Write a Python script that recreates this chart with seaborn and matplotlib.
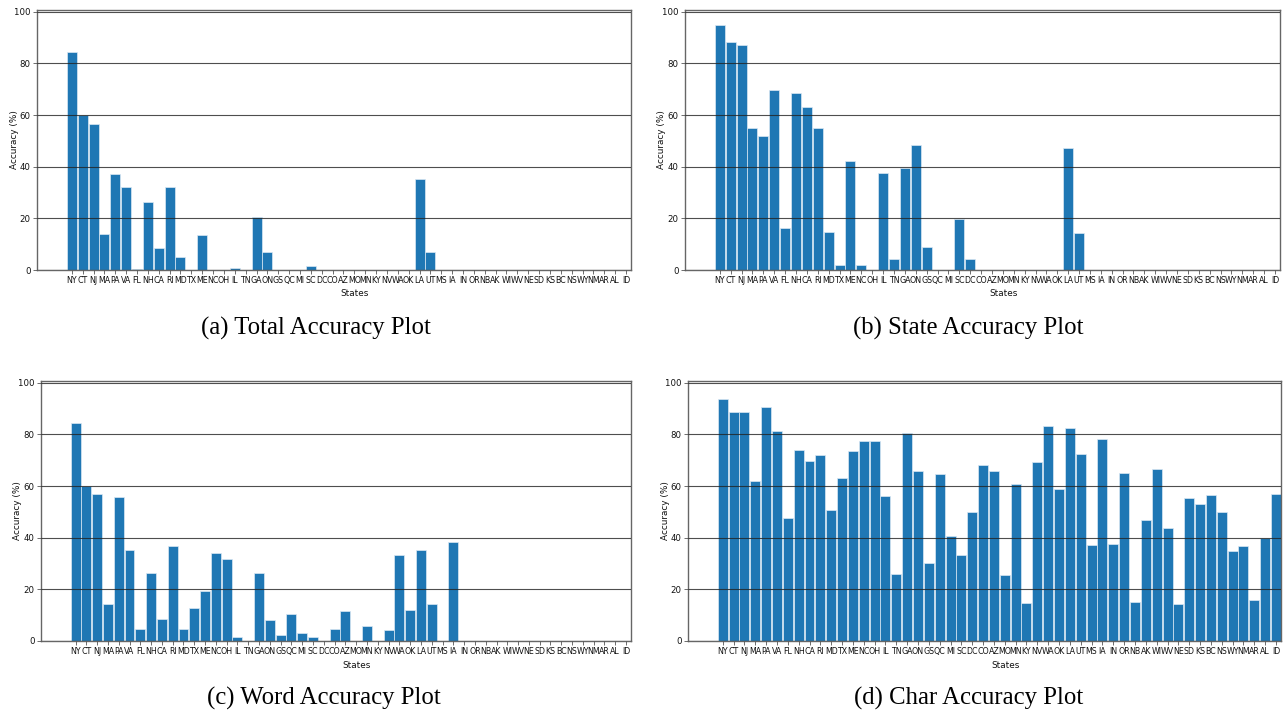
import matplotlib
matplotlib.use("Agg")
import matplotlib.pyplot as plt
import seaborn as sns
import pandas as pd

states = ["NY", "CT", "NJ", "MA", "PA", "VA", "FL", "NH", "CA", "RI", "MD", "TX", "ME",
          "NC", "OH", "IL", "TN", "GA", "ON", "GS", "QC", "MI", "SC", "DC", "CO", "AZ",
          "MO", "MN", "KY", "NV", "WA", "OK", "LA", "UT", "MS", "IA", "IN", "OR", "NB",
          "AK", "WI", "WV", "NE", "SD", "KS", "BC", "NS", "WY", "NM", "AR", "AL", "ID"]

total_acc = [84.3, 60.1, 56.5, 14.0, 37.2, 32.2, 0.3, 26.3, 8.6, 32.2, 4.9, 0, 13.6,
             0, 0, 0.6, 0, 20.7, 7.0, 0, 0, 0, 1.5, 0, 0, 0,
             0, 0, 0, 0, 0, 0, 35.3, 7.1, 0, 0, 0, 0, 0,
             0, 0, 0, 0, 0, 0, 0, 0, 0, 0, 0, 0, 0]

state_acc = [94.7, 88.3, 87.3, 55.0, 52.0, 69.8, 16.3, 68.5, 63.3, 55.0, 14.7, 1.9, 42.2,
             1.9, 0, 37.6, 4.4, 39.5, 48.3, 9.0, 0, 0, 19.6, 4.2, 0, 0,
             0, 0, 0, 0, 0, 0, 47.1, 14.2, 0, 0, 0, 0, 0,
             0, 0, 0, 0, 0, 0, 0, 0, 0, 0, 0, 0, 0]

word_acc = [84.4, 60.1, 57.1, 14.5, 55.6, 35.3, 4.8, 26.2, 8.5, 36.8, 4.8, 12.9, 19.4,
            34.1, 31.8, 1.4, 0, 26.4, 8.1, 2.5, 10.6, 3.0, 1.4, 0, 4.5, 11.5,
            0, 5.8, 0, 4.3, 33.3, 11.9, 35.3, 14.2, 0, 38.5, 0, 0, 0,
            0, 0, 0, 0, 0, 0, 0, 0, 0, 0, 0, 0, 0]

char_acc = [93.7, 88.8, 88.8, 62.0, 90.6, 81.3, 47.8, 74.0, 69.7, 72.2, 50.9, 63.3, 73.6,
            77.4, 77.4, 56.2, 25.8, 80.5, 66.0, 30.3, 64.7, 40.5, 33.5, 49.9, 68.0, 66.0,
            25.4, 60.7, 14.6, 69.5, 83.4, 58.8, 82.6, 72.6, 37.1, 78.1, 37.6, 65.1, 15.1,
            46.9, 66.6, 43.6, 14.4, 55.4, 53.2, 56.6, 50.0, 34.7, 36.7, 15.7, 39.9, 57.0]

captions = ["(a) Total Accuracy Plot", "(b) State Accuracy Plot",
            "(c) Word Accuracy Plot", "(d) Char Accuracy Plot"]
series = [total_acc, state_acc, word_acc, char_acc]

sns.set_style("white")
plt.rcParams["font.family"] = ["DejaVu Sans"]

W, H = 1283, 711
fig = plt.figure(figsize=(W / 100, H / 100), dpi=100)

# axes boxes in pixels: left, right, top, bottom
boxes = [(37, 631, 10, 270), (685, 1280, 10, 270),
         (41, 631, 381, 641), (688, 1281, 381, 641)]
ylabel_x = [19, 666, 22, 670]
cap_pos = [(316, 328), (968, 328), (324, 698), (969, 698)]

bar_color = "#1f77b4"

for vals, box, cap, cp, yx in zip(series, boxes, captions, cap_pos, ylabel_x):
    l, r, t, b = box
    ax = fig.add_axes([l / W, 1 - b / H, (r - l) / W, (b - t) / H])
    df = pd.DataFrame({"State": states, "Accuracy": vals})
    sns.barplot(data=df, x="State", y="Accuracy", color=bar_color, saturation=1,
                width=0.92, edgecolor="#dbe8f4", linewidth=0.5, ax=ax)
    ax.set_xlim(-3.2, 51.46)
    ax.set_ylim(0, 100.7)
    ax.set_yticks([0, 20, 40, 60, 80, 100])
    ax.yaxis.grid(True, color="#222222", linewidth=0.8, alpha=0.8)
    ax.xaxis.grid(False)
    ax.set_axisbelow(False)
    for s in ax.spines.values():
        s.set_visible(True)
        s.set_color("#666666")
        s.set_linewidth(1.0)
    ax.tick_params(axis="x", bottom=True, length=3, width=0.6, color="#555555",
                   labelsize=6.3, pad=1.5, labelcolor="#111111")
    ax.tick_params(axis="y", left=True, length=3, width=0.6, color="#555555",
                   labelsize=6.8, pad=1.5, labelcolor="#111111")
    for lab in ax.get_xticklabels() + ax.get_yticklabels():
        lab.set_fontstretch("condensed")
    ax.set_xlabel("States", fontsize=6.4, color="#111111")
    ax.xaxis.set_label_coords(0.535, -0.075)
    ax.set_ylabel("Accuracy (%)", fontsize=6.4, color="#111111")
    ax.yaxis.set_label_coords((yx - l) / (r - l), 0.5)
    fig.text(cp[0] / W, 1 - cp[1] / H, cap, ha="center", va="center",
             fontsize=17.8, color="black",
             family=["Liberation Serif", "DejaVu Serif"])

fig.savefig("out.png", dpi=100)
